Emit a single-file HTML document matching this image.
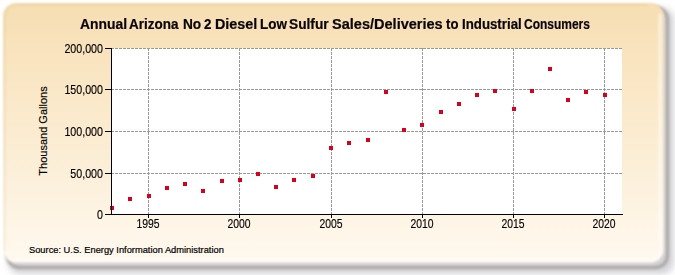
<!DOCTYPE html>
<html><head><meta charset="utf-8"><style>
html,body{margin:0;padding:0;background:#fff;width:675px;height:275px;overflow:hidden;position:relative}
*{font-family:"Liberation Sans",sans-serif}
.tw{position:absolute;top:16px;font-weight:bold;font-size:14px;line-height:16px;color:#0a0505;-webkit-text-stroke:0.2px #0a0505;white-space:nowrap;transform-origin:0 0}
.yl{position:absolute;left:41px;width:62px;text-align:right;font-size:12px;color:#000;-webkit-text-stroke:0.15px #000;line-height:12px;transform-origin:100% 50%;transform:scaleX(0.89)}
.xl{position:absolute;top:217.5px;width:40px;text-align:center;font-size:12px;color:#000;-webkit-text-stroke:0.15px #000;line-height:12px;transform:scaleX(0.865)}
#ytitle{position:absolute;left:43px;top:131px;transform:translate(-50%,-50%) rotate(-90deg);font-size:11px;color:#000;-webkit-text-stroke:0.15px #000;white-space:nowrap;line-height:12px}
#src{position:absolute;left:29px;top:245px;font-size:9.3px;color:#000;-webkit-text-stroke:0.2px #000;white-space:nowrap;line-height:11px}
svg{position:absolute;left:0;top:0}
</style></head><body>
<svg width="675" height="275" viewBox="0 0 675 275">
<defs>
<linearGradient id="bg" x1="0" y1="0" x2="0" y2="1"><stop offset="0" stop-color="rgb(247,222,178)"/><stop offset="1" stop-color="rgb(255,249,239)"/></linearGradient>
<filter id="sb" x="-5%" y="-5%" width="110%" height="110%"><feGaussianBlur stdDeviation="1.6"/></filter><filter id="sb2" x="-5%" y="-5%" width="110%" height="110%"><feGaussianBlur stdDeviation="3.2"/></filter>
<filter id="pb" x="-5%" y="-5%" width="110%" height="110%"><feGaussianBlur stdDeviation="0.8"/></filter>
</defs>
<rect x="8" y="8" width="666" height="266" rx="12" fill="rgb(212,212,217)" filter="url(#sb2)"/>
<rect x="7.5" y="7.5" width="660" height="260" rx="12" fill="none" stroke="rgb(168,162,156)" stroke-width="3" filter="url(#sb)"/>
<rect x="3" y="3" width="660.5" height="259.5" rx="13" fill="url(#bg)" filter="url(#pb)"/>
<path d="M5 250 V16 A11 11 0 0 1 16 5 H648" fill="none" stroke="rgba(150,140,70,0.10)" stroke-width="2" filter="url(#pb)"/>
<path d="M660 14 V249 A10 10 0 0 1 650 259.5 H14" fill="none" stroke="rgba(255,255,250,0.55)" stroke-width="3" filter="url(#pb)"/>
</svg>
<svg width="675" height="275" viewBox="0 0 675 275">
<rect x="111" y="48" width="511" height="166" fill="#fff"/>
<g stroke="#999999" stroke-width="1" stroke-dasharray="3 1" shape-rendering="crispEdges"><line x1="111" y1="48.5" x2="622" y2="48.5"/><line x1="111" y1="89.5" x2="622" y2="89.5"/><line x1="111" y1="131.5" x2="622" y2="131.5"/><line x1="111" y1="173.5" x2="622" y2="173.5"/><line x1="148.5" y1="48" x2="148.5" y2="214"/><line x1="239.5" y1="48" x2="239.5" y2="214"/><line x1="331.5" y1="48" x2="331.5" y2="214"/><line x1="422.5" y1="48" x2="422.5" y2="214"/><line x1="513.5" y1="48" x2="513.5" y2="214"/><line x1="604.5" y1="48" x2="604.5" y2="214"/></g>
<g fill="#D60020"><rect x="110" y="206" width="4" height="4"/><rect x="128" y="197" width="4" height="4"/><rect x="147" y="194" width="4" height="4"/><rect x="165" y="186" width="4" height="4"/><rect x="183" y="182" width="4" height="4"/><rect x="201" y="189" width="4" height="4"/><rect x="220" y="179" width="4" height="4"/><rect x="238" y="178" width="4" height="4"/><rect x="256" y="172" width="4" height="4"/><rect x="274" y="185" width="4" height="4"/><rect x="292" y="178" width="4" height="4"/><rect x="311" y="174" width="4" height="4"/><rect x="329" y="146" width="4" height="4"/><rect x="347" y="141" width="4" height="4"/><rect x="366" y="138" width="4" height="4"/><rect x="384" y="90" width="4" height="4"/><rect x="402" y="128" width="4" height="4"/><rect x="420" y="123" width="4" height="4"/><rect x="439" y="110" width="4" height="4"/><rect x="457" y="102" width="4" height="4"/><rect x="475" y="93" width="4" height="4"/><rect x="493" y="89" width="4" height="4"/><rect x="512" y="107" width="4" height="4"/><rect x="530" y="89" width="4" height="4"/><rect x="548" y="67" width="4" height="4"/><rect x="566" y="98" width="4" height="4"/><rect x="584" y="90" width="4" height="4"/><rect x="603" y="93" width="4" height="4"/></g>
<g stroke="#000" stroke-width="1" shape-rendering="crispEdges"><line x1="105" y1="48.5" x2="111" y2="48.5"/><line x1="105" y1="89.5" x2="111" y2="89.5"/><line x1="105" y1="131.5" x2="111" y2="131.5"/><line x1="105" y1="173.5" x2="111" y2="173.5"/><line x1="105" y1="214.5" x2="111" y2="214.5"/><line x1="148.5" y1="214" x2="148.5" y2="218"/><line x1="239.5" y1="214" x2="239.5" y2="218"/><line x1="331.5" y1="214" x2="331.5" y2="218"/><line x1="422.5" y1="214" x2="422.5" y2="218"/><line x1="513.5" y1="214" x2="513.5" y2="218"/><line x1="604.5" y1="214" x2="604.5" y2="218"/>
<line x1="111.5" y1="48" x2="111.5" y2="215"/><line x1="111" y1="214.5" x2="623" y2="214.5"/></g>
</svg>
<div class="tw" style="left:80.40px;transform:scaleX(0.9915)">Annual</div><div class="tw" style="left:129.30px;transform:scaleX(0.9615)">Arizona</div><div class="tw" style="left:182.72px;transform:scaleX(0.9765)">No</div><div class="tw" style="left:204.40px;transform:scaleX(0.9571)">2</div><div class="tw" style="left:214.97px;transform:scaleX(1.0256)">Diesel</div><div class="tw" style="left:260.04px;transform:scaleX(0.9630)">Low</div><div class="tw" style="left:289.32px;transform:scaleX(0.9795)">Sulfur</div><div class="tw" style="left:331.96px;transform:scaleX(1.0381)">Sales/Deliveries</div><div class="tw" style="left:446.00px;transform:scaleX(0.9385)">to</div><div class="tw" style="left:461.85px;transform:scaleX(0.9475)">Industrial</div><div class="tw" style="left:524.14px;transform:scaleX(0.8553)">Consumers</div>
<div class="yl" style="top:42.5px">200,000</div><div class="yl" style="top:83.5px">150,000</div><div class="yl" style="top:125.5px">100,000</div><div class="yl" style="top:167.5px">50,000</div><div class="yl" style="top:208.5px">0</div><div class="xl" style="left:127.69999999999999px">1995</div><div class="xl" style="left:218.7px">2000</div><div class="xl" style="left:310.7px">2005</div><div class="xl" style="left:401.7px">2010</div><div class="xl" style="left:492.70000000000005px">2015</div><div class="xl" style="left:583.7px">2020</div>
<div id="ytitle">Thousand Gallons</div>
<div id="src">Source: U.S. Energy Information Administration</div>
</body></html>
